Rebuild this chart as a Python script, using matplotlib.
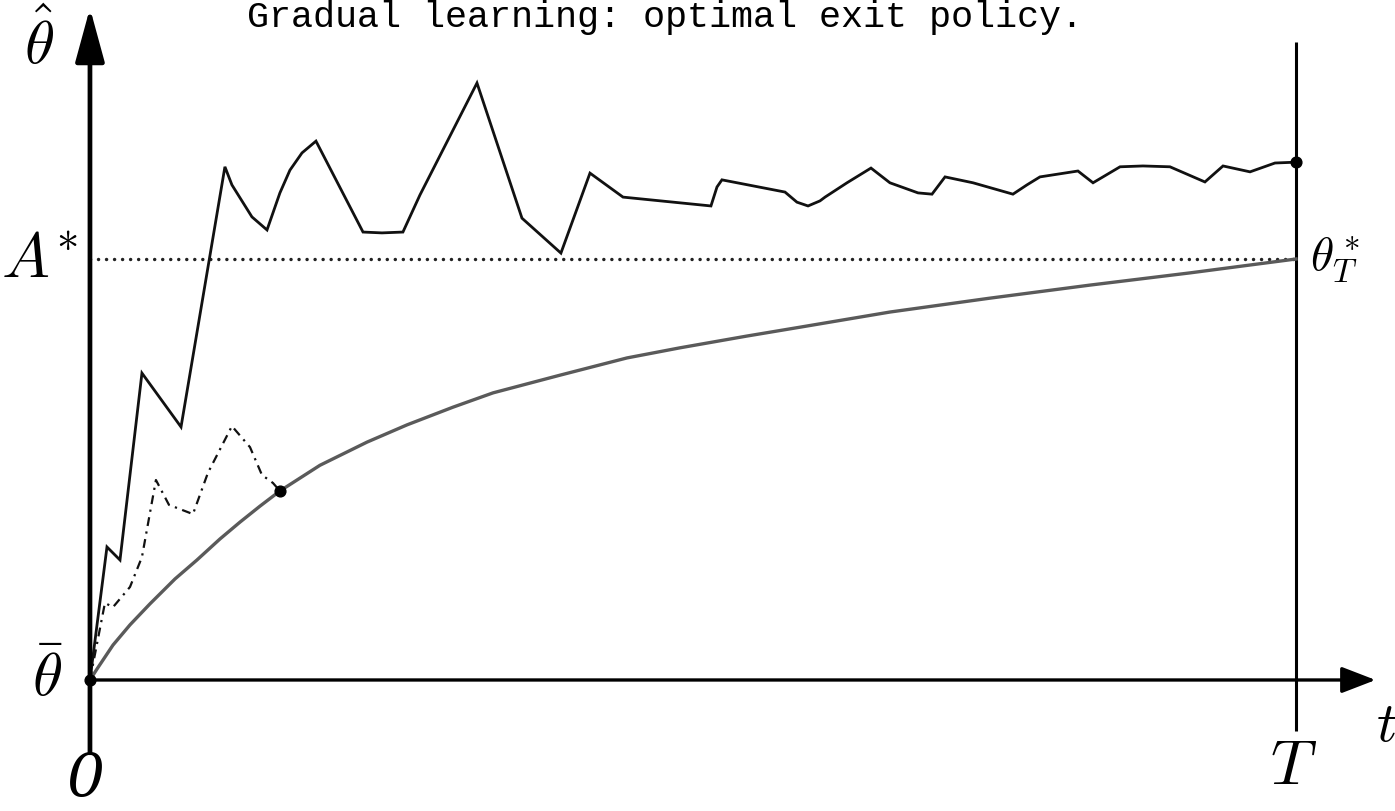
import matplotlib
matplotlib.use('Agg')
import matplotlib.pyplot as plt

plt.rcParams['mathtext.fontset'] = 'cm'

# time runs 0..T (T = 100), belief in units where A* = 100
T = 100
A_star = 100

# realised posterior path (solid)
path_t = [0, 1.41, 2.49, 4.31, 7.55, 11.19, 11.77, 13.43, 14.68, 15.75, 16.58, 17.58, 18.74,
          22.64, 24.21, 25.95, 27.36, 32.09, 35.82, 39.05, 41.46, 44.20, 51.49, 51.99, 52.40,
          57.63, 58.62, 59.54, 60.53, 60.95, 62.77, 64.76, 66.33, 68.66, 69.82, 70.90, 73.22,
          76.53, 77.69, 78.77, 81.92, 83.17, 85.41, 87.31, 89.55, 92.45, 93.95, 96.19, 98.26, 100]
path_v = [0, 31.6, 28.5, 72.9, 60.1, 121.9, 117.6, 110.0, 106.9, 115.7, 121.1, 125.2, 128.0,
          106.4, 106.2, 106.4, 115.2, 141.8, 109.7, 101.4, 120.4, 114.7, 112.6, 117.1, 118.8,
          115.9, 113.5, 112.6, 113.8, 114.7, 118.1, 121.6, 118.1, 115.7, 115.4, 119.5, 118.1,
          115.4, 117.6, 119.5, 120.9, 118.1, 121.9, 122.1, 121.9, 118.3, 122.1, 120.7, 122.8, 123.0]

# path that hits the boundary (dash-dot)
exit_t = [0, 1.24, 1.91, 3.32, 4.31, 5.47, 6.55, 8.54, 9.78, 11.77, 13.27, 14.26, 15.17, 15.75]
exit_v = [0, 18.3, 17.3, 22.1, 29.2, 47.5, 41.6, 39.4, 49.2, 60.3, 55.3, 48.7, 46.8, 44.9]

# exit boundary theta*_t (grey)
bound_t = [0, 0.58, 1.91, 3.32, 4.98, 7.05, 8.87, 10.78, 12.44, 14.10, 15.75, 19.07, 22.97,
           26.29, 30.10, 33.42, 38.97, 44.53, 48.92, 54.48, 58.87, 66.33, 74.63, 82.92, 91.21, 100]
bound_v = [0, 2.6, 8.3, 13.1, 18.1, 24.0, 28.5, 33.5, 37.5, 41.3, 44.9, 51.0, 56.5,
           60.6, 64.8, 68.2, 72.4, 76.5, 78.9, 81.7, 83.8, 87.4, 90.7, 93.8, 96.7, 100]

fig = plt.figure(figsize=(13.95, 8.11), dpi=100)
ax = fig.add_axes([0, 0, 1, 1])
ax.set_xlim(-7.46, 108.21)
ax.set_ylim(-31.12, 161.52)
ax.axis('off')

# axes with arrows
ax.annotate('', xy=(0, 159.6), xytext=(0, -17.3),
            arrowprops=dict(arrowstyle='-|>,head_length=1.1,head_width=0.3', lw=3.4,
                            color='black', mutation_scale=30, shrinkA=0, shrinkB=0))
ax.annotate('', xy=(106.6, 0), xytext=(0, 0),
            arrowprops=dict(arrowstyle='-|>,head_length=0.7,head_width=0.27', lw=2.4,
                            color='black', mutation_scale=30, shrinkA=0, shrinkB=0))
ax.plot([T, T], [-12.1, 151.5], color='black', lw=2.2, solid_capstyle='butt')

# threshold A*
ax.plot([0, T], [A_star, A_star], color='#222222', lw=2.5,
        linestyle=(0, (0.01, 2.3)), dash_capstyle='round')

ax.plot(bound_t, bound_v, color='#5a5a5a', lw=2.4)
ax.plot(exit_t, exit_v, color='#111111', lw=1.6, linestyle=(0, (4, 2.5, 1, 2.5)))
ax.plot(path_t, path_v, color='#111111', lw=2.0, solid_joinstyle='miter')

ax.scatter([0, exit_t[-1], T], [0, exit_v[-1], path_v[-1]], s=60, color='black', zorder=5)

# labels
ax.text(-4.2, 151, r'$\hat{\theta}$', fontsize=44, ha='center', va='center')
ax.text(-4.2, A_star, r'$A^{*}$', fontsize=46, ha='center', va='center')
ax.text(-3.5, 0, r'$\bar{\theta}$', fontsize=44, ha='center', va='center')
ax.text(-0.4, -23.8, '0', fontsize=43, family='DejaVu Serif', style='italic',
        ha='center', va='center')
ax.text(T - 0.2, -20.5, r'$T$', fontsize=46, ha='center', va='center')
ax.text(107.5, -11, r'$t$', fontsize=40, ha='center', va='center')
ax.text(101.2, A_star, r'$\theta_T^*$', fontsize=34, ha='left', va='center')

ax.text(47.7, 155.0, 'Gradual learning: optimal exit policy.', fontsize=26.5,
        family='Liberation Mono', ha='center', va='baseline')

plt.savefig('out.png', dpi=100)
